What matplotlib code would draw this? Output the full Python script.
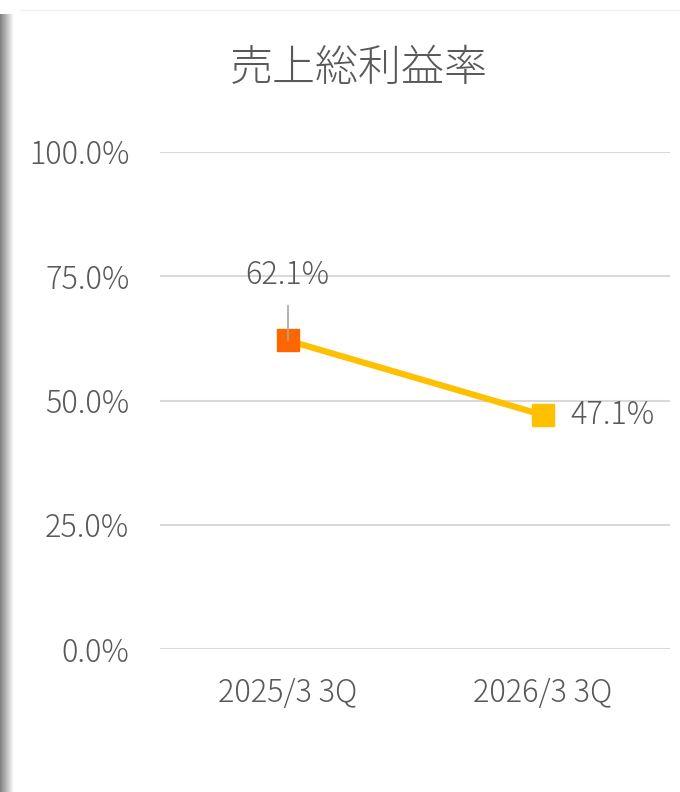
import numpy as np
import matplotlib
matplotlib.use("Agg")
import matplotlib.pyplot as plt
from matplotlib.ticker import FuncFormatter

plt.rcParams['font.family'] = ['Noto Sans CJK JP', 'DejaVu Sans']
plt.rcParams['font.weight'] = 'light'

# data
categories = ["2025/3 3Q", "2026/3 3Q"]
margin = [62.1, 47.1]
y_ticks = [0, 25, 50, 75, 100]

TEXT = "#595959"
LINE = "#FFC000"
FIRST = "#FF6600"
GRID = "#D9D9D9"

fig = plt.figure(figsize=(6.8, 7.92), dpi=100)

# left shadow of the chart frame
sh = fig.add_axes([0, 0, 14 / 680, 1 - 14 / 792])
grad = np.linspace(0.5, 1.0, 64).reshape(1, -1)
sh.imshow(grad, cmap="gray", vmin=0, vmax=1, aspect="auto", extent=[0, 1, 0, 1])
sh.set_axis_off()
fig.add_artist(plt.Line2D([20 / 680, 1], [1 - 10 / 792, 1 - 10 / 792],
                          color="#F2F2F2", lw=1, transform=fig.transFigure))

ax = fig.add_axes([160 / 680, 143 / 792, 510 / 680, 497 / 792])
x = np.arange(len(categories))
ax.plot(x, margin, color=LINE, lw=4.5, zorder=3)
ax.plot(x[0], margin[0], "s", ms=15.5, color=FIRST, zorder=4)
ax.plot(x[1], margin[1], "s", ms=15.5, color=LINE, zorder=4)

ax.set_xlim(-0.5, len(categories) - 0.5)
ax.set_ylim(0, 100)
ax.set_yticks(y_ticks)
ax.yaxis.set_major_formatter(FuncFormatter(lambda v, p: f"{v:.1f}%"))
ax.set_xticks(x)
ax.set_xticklabels(categories)
ax.grid(axis="y", color=GRID, lw=1.5)
ax.set_axisbelow(True)
for s in ax.spines.values():
    s.set_visible(False)
ax.tick_params(length=0, labelsize=22, colors=TEXT)
ax.tick_params(axis="y", pad=22)
ax.tick_params(axis="x", pad=20)

# data labels
ax.annotate(f"{margin[0]:.1f}%", xy=(x[0], margin[0]), xytext=(0, 47),
            textcoords="offset points", ha="center", va="center",
            fontsize=22, color=TEXT, zorder=5)
ax.plot([x[0], x[0]], [margin[0], margin[0] + 7], color="#A6A6A6", lw=1.2, zorder=5)
ax.annotate(f"{margin[1]:.1f}%", xy=(x[1], margin[1]), xytext=(20, 0),
            textcoords="offset points", ha="left", va="center",
            fontsize=22, color=TEXT, zorder=5)

fig.text(359 / 680, 1 - 68 / 792, "売上総利益率", ha="center", va="center",
         fontsize=31, color=TEXT)

fig.savefig("out.png", dpi=100)
